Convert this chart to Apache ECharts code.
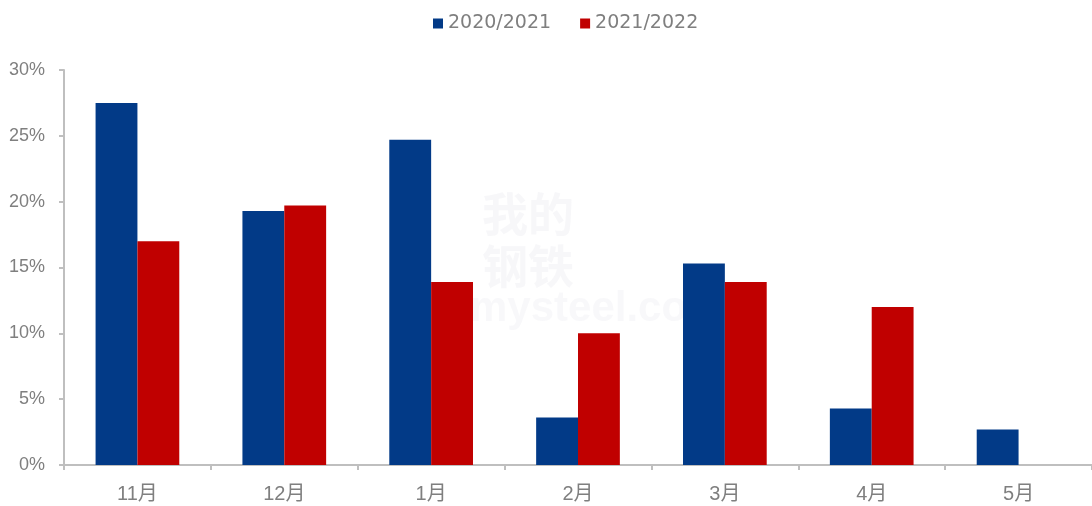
<!DOCTYPE html>
<html>
<head>
<meta charset="utf-8">
<script src="https://cdn.jsdelivr.net/npm/echarts@6/dist/echarts.min.js"></script>
<style>html,body{margin:0;padding:0;background:#fff}#c{width:1092px;height:506px}</style>
</head>
<body>
<div id="c"></div>
<script>
const categories = ['11月', '12月', '1月', '2月', '3月', '4月', '5月'];
const series2021 = [27.5, 19.3, 24.7, 3.6, 15.3, 4.3, 2.7];
const series2022 = [17.0, 19.7, 13.9, 10.0, 13.9, 12.0, null];
const seriesNames = ['2020/2021', '2021/2022'];
const yTicks = [0, 5, 10, 15, 20, 25, 30];

const FONT = '"Liberation Sans", "Noto Sans CJK SC", sans-serif';
const chart = echarts.init(document.getElementById('c'));
chart.setOption({
  animation: false,
  backgroundColor: '#fff',
  legend: {
    top: 9,
    left: 428,
    itemWidth: 10,
    itemHeight: 10,
    itemGap: 29,
    icon: 'rect',
    textStyle: { color: '#7f7f7f', fontSize: 19, fontFamily: '"DejaVu Sans", sans-serif' }
  },
  graphic: [
    { type: 'text', left: 482, top: 188, z: -10, silent: true,
      style: { text: '我的\n钢铁', font: 'bold 46px "Noto Sans CJK SC"', fill: 'rgba(200,200,215,0.14)', lineHeight: 52 } },
    { type: 'text', left: 470, top: 288, z: -10, silent: true,
      style: { text: 'mysteel.com', font: 'bold 42px "Liberation Sans"', fill: 'rgba(200,200,210,0.12)' } }
  ],
  grid: { left: 64, top: 70, width: 1032, height: 395, containLabel: false },
  xAxis: {
    type: 'category',
    data: categories,
    axisLine: { lineStyle: { color: '#bfbfbf', width: 2 } },
    axisTick: { show: true, alignWithLabel: false, length: 5, lineStyle: { color: '#bfbfbf', width: 2 } },
    axisLabel: { color: '#7f7f7f', fontSize: 20, margin: 19, fontFamily: FONT }
  },
  yAxis: {
    type: 'value',
    min: yTicks[0],
    max: yTicks[yTicks.length - 1],
    interval: 5,
    splitLine: { show: false },
    axisLine: { show: true, lineStyle: { color: '#bfbfbf', width: 2 } },
    axisTick: { show: true, inside: false, length: 5, lineStyle: { color: '#bfbfbf', width: 2 } },
    axisLabel: { color: '#7f7f7f', fontSize: 18, margin: 19, fontFamily: FONT, formatter: '{value}%' }
  },
  series: [
    { name: seriesNames[0], type: 'bar', data: series2021, barGap: '0%', barCategoryGap: '43%',
      itemStyle: { color: '#023a87' } },
    { name: seriesNames[1], type: 'bar', data: series2022, barGap: '0%', barCategoryGap: '43%',
      itemStyle: { color: '#c00000' } }
  ]
});
</script>
</body>
</html>
